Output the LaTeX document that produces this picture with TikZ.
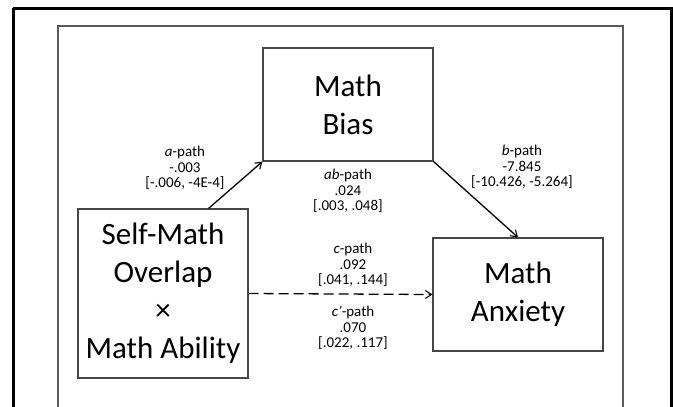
\documentclass[tikz,border=0pt]{standalone}
\usepackage{fontspec}
\setmainfont{Carlito}
\usetikzlibrary{arrows.meta,calc}
\definecolor{boxgray}{RGB}{70,70,70}
\definecolor{framegray}{RGB}{90,90,90}
\tikzset{
  varbox/.style={draw=boxgray, line width=1.2pt, fill=white, inner sep=0pt, align=center,
    font=\fontsize{31}{38}\selectfont},
  pathlabel/.style={align=center, font=\fontsize{15}{15.5}\selectfont, inner sep=0pt},
  patharrow/.style={line width=1.3pt, -{Straight Barb[length=6pt,width=8pt,line width=1.1pt]}},
}
\begin{document}
\begin{tikzpicture}[x=1pt,y=-1pt]
\useasboundingbox (0,0) rectangle (673,407);
\draw[black, line width=3pt] (13,8) -- (671,8) -- (671,430);
\draw[black, line width=3pt] (13,8) -- (13,430);
\draw[framegray, line width=1.5pt] (58,430) -- (58,26) -- (623,26) -- (623,430);

\node[varbox, minimum width=170pt, minimum height=113pt] (bias) at (348,104.5) {Math\\Bias};
\node[varbox, minimum width=170pt, minimum height=169pt] (self) at (163,293.5) {Self-Math\\Overlap\\×\\Math Ability};
\node[varbox, minimum width=170pt, minimum height=113pt] (anx) at (518,294.5) {Math\\Anxiety};

\coordinate (astart) at ($(self.north east)+(-40,0)$);
\draw[patharrow] (astart) -- (bias.south west);
\draw[patharrow] (bias.south east) -- (anx.north);
\draw[patharrow, dash pattern=on 10pt off 5pt] (self.east) -- (anx.west);

\node[pathlabel] (alab) at (185,168) {\textit{a}-path\\-.003\\{[}-.006, -4E-4]};
\node[pathlabel] (blab) at (522,167) {\textit{b}-path\\-7.845\\{[}-10.426, -5.264]};
\node[pathlabel] (ablab) at (348,191) {\textit{ab}-path\\.024\\{[}.003, .048]};
\node[pathlabel] (clab) at (353,265) {\textit{c}-path\\.092\\{[}.041, .144]};
\node[pathlabel] (cplab) at (353,328) {\textit{c’}-path\\.070\\{[}.022, .117]};
\end{tikzpicture}
\end{document}
